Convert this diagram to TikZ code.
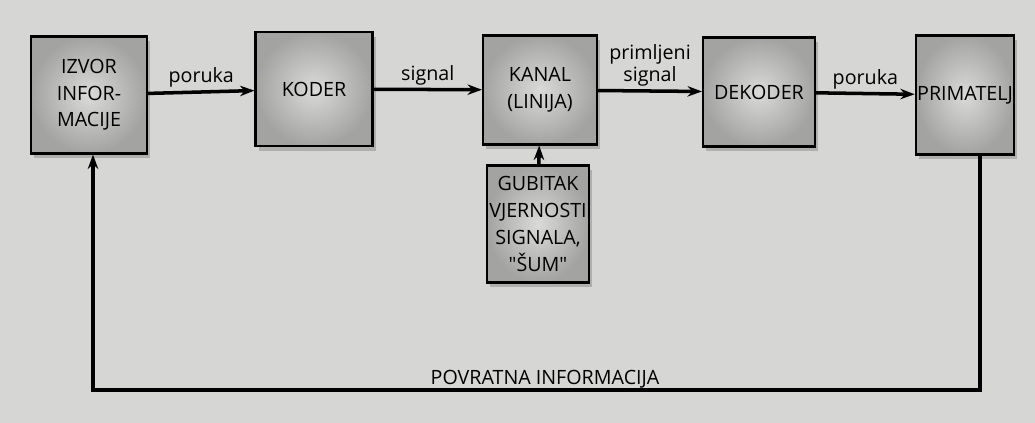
\documentclass[tikz,border=0pt]{standalone}
\usepackage{fontspec}
\setmainfont{Open Sans}[Ligatures=TeXOff]
\usetikzlibrary{shadows,arrows.meta}
\definecolor{papir}{HTML}{D6D6D4}
\definecolor{kutija}{HTML}{A3A3A1}
\begin{document}
\begin{tikzpicture}[>={Stealth[length=3.6mm, width=2.6mm]}, line width=2.5pt,
  blok/.style={draw, line width=1.5pt, inner color=kutija!40, outer color=kutija, align=center,
    drop shadow={shadow xshift=0.8mm, shadow yshift=-1.2mm, opacity=0.45},
    font=\fontsize{14}{19}\selectfont},
  oznaka/.style={font=\fontsize{14}{16}\selectfont, inner sep=2pt}]
\fill[papir] (0,0) rectangle (25.875,10.575);
\useasboundingbox (0,0) rectangle (25.875,10.575);
\node[blok, minimum width=2.9cm, minimum height=2.925cm] (izvor) at (2.225,8.2) {IZVOR\\INFOR-\\MACIJE};
\node[blok, minimum width=2.925cm, minimum height=2.85cm] (koder) at (7.85,8.35) {KODER};
\node[blok, minimum width=2.85cm, minimum height=2.725cm] (kanal) at (13.5,8.325) {KANAL\\(LINIJA)};
\node[blok, minimum width=2.8cm, minimum height=2.725cm] (dekoder) at (18.975,8.275) {DEKODER};
\node[blok, minimum width=2.375cm, minimum height=2.975cm, inner sep=1pt] (primatelj) at (24.125,8.2) {PRIMATELJ};
\node[blok, minimum width=2.55cm, minimum height=2.925cm, inner sep=1pt] (gubitak) at (13.45,4.975) {GUBITAK\\VJERNOSTI\\SIGNALA,\\"ŠUM"};
\draw[->] (izvor) -- (koder) node[midway, above, oznaka] {poruka};
\draw[->] (koder) -- (kanal) node[midway, above, oznaka] {signal};
\draw[->] (kanal) -- (dekoder) node[midway, above, oznaka, align=center] {primljeni\\signal};
\draw[->] (dekoder) -- (primatelj) node[midway, above, oznaka] {poruka};
\draw[->] (gubitak) -- (kanal);
% povratna veza
\coordinate (fbR) at (24.5,0.825);
\coordinate (fbL) at (2.325,0.825);
\draw[->] (primatelj.south -| fbR) -- (fbR) -- (fbL) -- (izvor.south -| fbL);
\node[oznaka] (povrat) at (13.625,1.1) {POVRATNA INFORMACIJA};
\end{tikzpicture}
\end{document}
